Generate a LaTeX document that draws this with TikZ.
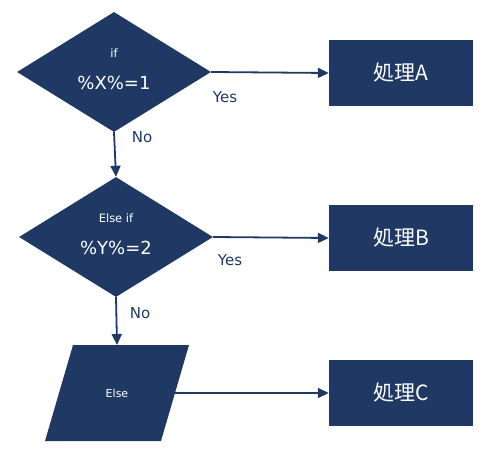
\documentclass[tikz,border=0pt]{standalone}
\usepackage{fontspec}
\setmainfont{DejaVu Sans}
\newfontfamily\jpfont{Noto Sans CJK JP}
\usetikzlibrary{shapes.geometric,arrows.meta}
\definecolor{navy}{HTML}{203864}
\tikzset{
  decision/.style={diamond,fill=navy,draw=none,minimum width=194pt,minimum height=120pt,inner sep=0pt,aspect=1.6},
  procbox/.style={rectangle,fill=navy,draw=none,minimum width=144pt,minimum height=66pt,inner sep=0pt,text=white,font=\jpfont\fontsize{21pt}{21pt}\selectfont},
  small/.style={text=white,inner sep=0pt,font=\fontsize{11.5pt}{12pt}\selectfont},
  formula/.style={text=white,inner sep=0pt,font=\fontsize{18pt}{18pt}\selectfont},
  lbl/.style={text=navy,inner sep=0pt,font=\fontsize{15pt}{15pt}\selectfont},
  conn/.style={draw=navy,line width=1.8pt,-{Triangle[length=11pt,width=10pt]}}
}
\begin{document}
\begin{tikzpicture}[x=1pt,y=-1pt]
\useasboundingbox (0,0) rectangle (490,452);
% decisions
\node[decision] (d1) at (114,72) {};
\node[small] (t1) at (114,53) {if};
\node[formula] (f1) at (114,83) {\%X\%=1};
\node[decision] (d2) at (116,237) {};
\node[small] (t2) at (116,218) {Else if};
\node[formula] (f2) at (116,248) {\%Y\%=2};
% else parallelogram
\fill[navy] (73,345) -- (189,345) -- (161,441) -- (45,441) -- cycle;
\coordinate (eTop) at (117,345);
\coordinate (eRight) at (175,393);
\node[text=white,inner sep=0pt,font=\fontsize{11pt}{12pt}\selectfont] (e) at (117,393) {Else};
% process boxes
\node[procbox] (a) at (401,73) {処理A};
\node[procbox] (b) at (401,238) {処理B};
\node[procbox] (c) at (401,393) {処理C};
% connectors
\draw[conn] (d1.east) -- (a.west);
\draw[conn] (d2.east) -- (b.west);
\draw[conn] (eRight) -- (c.west);
\draw[conn] (d1.south) -- (d2.north);
\draw[conn] (d2.south) -- (eTop);
% labels
\node[lbl] (y1) at (225,97) {Yes};
\node[lbl] (n1) at (142,137) {No};
\node[lbl] (y2) at (230,260) {Yes};
\node[lbl] (n2) at (140,313) {No};
\end{tikzpicture}
\end{document}
